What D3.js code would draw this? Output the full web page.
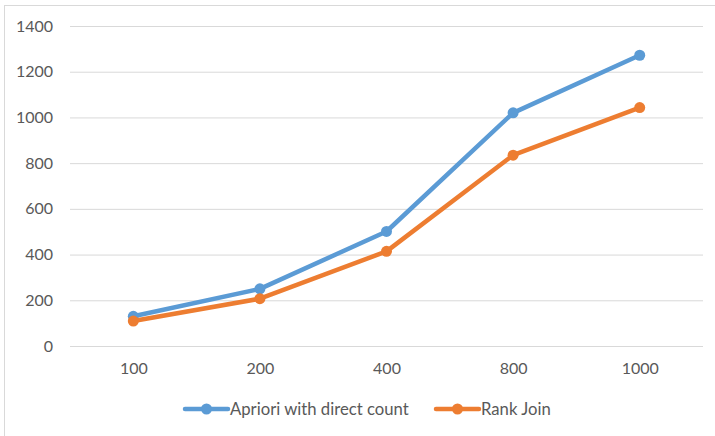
<!DOCTYPE html>
<html>
<head>
<meta charset="utf-8">
<script src="https://cdn.jsdelivr.net/npm/d3@7/dist/d3.min.js"></script>
<style>
  html, body { margin: 0; padding: 0; background: #fff; }
  svg { display: block; }
  text { font-family: Lato, "Open Sans", sans-serif; fill: #595959; }
</style>
</head>
<body>
<svg id="chart" width="715" height="436"></svg>
<script>
// Data
const categories = ["100", "200", "400", "800", "1000"];
const aprioriValues = [130, 250, 501, 1020, 1272];
const rankJoinValues = [109, 207, 414, 835, 1043];
const yTicks = [0, 200, 400, 600, 800, 1000, 1200, 1400];
const seriesNames = ["Apriori with direct count", "Rank Join"];
const seriesColors = ["#5B9BD5", "#ED7D31"];

const series = [
  { name: seriesNames[0], values: aprioriValues, color: seriesColors[0] },
  { name: seriesNames[1], values: rankJoinValues, color: seriesColors[1] }
];

const svg = d3.select("#chart");
const plot = { left: 70, right: 703, top: 26, bottom: 346 };

// Chart area border
svg.append("rect")
  .attr("x", 4.5).attr("y", 5.5)
  .attr("width", 730).attr("height", 450)
  .attr("fill", "#fff")
  .attr("stroke", "#D9D9D9").attr("stroke-width", 1);

const x = d3.scalePoint()
  .domain(categories)
  .range([plot.left, plot.right])
  .padding(0.5);

const y = d3.scaleLinear()
  .domain([0, 1400])
  .range([plot.bottom, plot.top]);

// Horizontal gridlines + y labels
const yAxis = d3.axisLeft(y)
  .tickValues(yTicks)
  .tickSize(-(plot.right - plot.left))
  .tickPadding(17)
  .tickFormat(d3.format("d"));

const gy = svg.append("g")
  .attr("transform", `translate(${plot.left},0)`)
  .call(yAxis);
gy.select(".domain").remove();
gy.selectAll(".tick line").attr("stroke", "#D9D9D9").attr("stroke-width", 1);
gy.selectAll(".tick text")
  .attr("font-size", 16)
  .attr("fill", "#595959")
  .style("font-family", "Lato, 'Open Sans', sans-serif");

// X axis labels
const xAxis = d3.axisBottom(x).tickSize(0).tickPadding(17);
const gx = svg.append("g")
  .attr("transform", `translate(0,${plot.bottom})`)
  .call(xAxis);
gx.select(".domain").remove();
gx.selectAll(".tick text")
  .attr("font-size", 16)
  .attr("fill", "#595959")
  .style("font-family", "Lato, 'Open Sans', sans-serif");

// Lines and markers
const line = d3.line()
  .x((d, i) => x(categories[i]))
  .y(d => y(d));

series.forEach(s => {
  svg.append("path")
    .datum(s.values)
    .attr("d", line)
    .attr("fill", "none")
    .attr("stroke", s.color)
    .attr("stroke-width", 4.5)
    .attr("stroke-linejoin", "round")
    .attr("stroke-linecap", "round");
  svg.append("g").selectAll("circle")
    .data(s.values)
    .join("circle")
    .attr("cx", (d, i) => x(categories[i]))
    .attr("cy", d => y(d))
    .attr("r", 5.5)
    .attr("fill", s.color);
});

// Legend
const legendY = 409;
const legendItems = [
  { x0: 185, ...series[0] },
  { x0: 436, ...series[1] }
];
legendItems.forEach(item => {
  const g = svg.append("g");
  g.append("line")
    .attr("x1", item.x0).attr("x2", item.x0 + 43)
    .attr("y1", legendY).attr("y2", legendY)
    .attr("stroke", item.color).attr("stroke-width", 4.5)
    .attr("stroke-linecap", "round");
  g.append("circle")
    .attr("cx", item.x0 + 21.5).attr("cy", legendY)
    .attr("r", 5.5).attr("fill", item.color);
  g.append("text")
    .attr("x", item.x0 + 45).attr("y", legendY)
    .attr("dy", "0.35em")
    .attr("font-size", 16.7)
    .text(item.name);
});
</script>
</body>
</html>
